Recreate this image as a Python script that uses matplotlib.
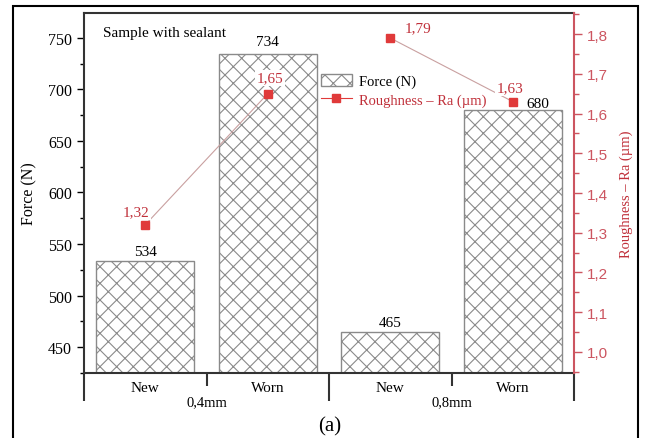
import matplotlib.pyplot as plt
from matplotlib.lines import Line2D
from matplotlib.patches import Rectangle
from matplotlib.ticker import FuncFormatter, MultipleLocator

# Data
conditions = ["New", "Worn", "New", "Worn"]
groups = ["0,4mm", "0,8mm"]
force = [534, 734, 465, 680]
roughness = [1.32, 1.65, 1.79, 1.63]

# label offsets (pixels) for the annotations
force_offsets = [(0, 9), (0, 13), (0, 9), (25, 6)]
rough_offsets = [(-9, 13), (2, 16), (28, 10), (-3, 14)]

RED = "#c0303a"
AXRED = "#cc5560"
GREY = "#8a8a8a"
W, H = 645, 439

plt.rcParams["font.family"] = ["Liberation Serif", "DejaVu Serif"]
plt.rcParams["hatch.linewidth"] = 0.8


def comma(v, pos=None):
    return f"{v:.1f}".replace(".", ",")


fig = plt.figure(figsize=(W / 100, H / 100), dpi=100)
ax = fig.add_axes([84 / W, 1 - 374 / H, 490 / W, 360 / H])

x = list(range(len(force)))
bars = ax.bar(x, force, width=0.8, color="white", edgecolor=GREY,
              hatch="xx", linewidth=1.0, label="Force (N)")
ax.set_xlim(-0.5, 3.5)
ax.set_ylim(425, 774)

for xi, v, (dx, dy) in zip(x, force, force_offsets):
    ax.annotate(str(v), (xi, v), xytext=(dx, dy), textcoords="offset pixels",
                ha="center", va="center", fontsize=11)

# x axis: boundary ticks, category and group labels as text
ax.set_xticks([-0.5, 1.5, 3.5])
ax.set_xticks([0.5, 2.5], minor=True)
ax.tick_params(axis="x", which="major", length=20, width=1.5,
               color="#333333", labelbottom=False)
ax.tick_params(axis="x", which="minor", length=9.5, width=1.5,
               color="#333333")
for xi, c in zip(x, conditions):
    ax.text(xi, -15 / 360, c, transform=ax.get_xaxis_transform(),
            ha="center", va="center", fontsize=11)
for i, g in enumerate(groups):
    ax.text(2 * i + 0.5, -29 / 360, g, transform=ax.get_xaxis_transform(),
            ha="center", va="center", fontsize=10.5)

ax.set_yticks(range(450, 751, 50))
ax.yaxis.set_minor_locator(MultipleLocator(25))
ax.tick_params(axis="y", which="major", length=5, width=1, labelsize=11.5)
ax.tick_params(axis="y", which="minor", length=3, width=1)
ax.set_ylabel("Force (N)", fontsize=11.5)
ax.yaxis.set_label_coords(-0.095, 0.5)
for s in ["left", "bottom", "top"]:
    ax.spines[s].set_linewidth(1.5)
    ax.spines[s].set_color("#333333")
ax.spines["right"].set_visible(False)

ax.text(103 / W, 1 - 34 / H, "Sample with sealant", transform=fig.transFigure,
        ha="left", va="center", fontsize=11)

# roughness on the right axis
ax2 = ax.twinx()
ax2.set_ylim(0.947, 1.853)
for i in range(len(groups)):
    ax2.plot(x[2 * i:2 * i + 2], roughness[2 * i:2 * i + 2],
             color="#c9a0a0", lw=0.8)
ax2.plot(x, roughness, ls="none", marker="s", ms=5.5, color="#e03a3a")
for xi, v, (dx, dy) in zip(x, roughness, rough_offsets):
    ax2.annotate(f"{v:.2f}".replace(".", ","), (xi, v), xytext=(dx, dy),
                 textcoords="offset pixels", ha="center", va="center",
                 fontsize=11, color=RED,
                 bbox=dict(boxstyle="square,pad=0.1", fc="white", ec="none"))

ax2.yaxis.set_major_locator(MultipleLocator(0.1))
ax2.yaxis.set_minor_locator(MultipleLocator(0.05))
ax2.yaxis.set_major_formatter(FuncFormatter(comma))
ax2.tick_params(axis="y", which="major", length=6, width=1, color=AXRED,
                labelcolor=AXRED, labelsize=11)
ax2.tick_params(axis="y", which="minor", length=3.5, width=1, color=AXRED)
for lab in ax2.get_yticklabels():
    lab.set_fontfamily("Liberation Sans")
ax2.set_ylabel("Roughness – Ra (µm)", color=RED, fontsize=10.5)
ax2.yaxis.set_label_coords(1.092, 0.5)
for s in ["left", "bottom", "top"]:
    ax2.spines[s].set_visible(False)
ax2.spines["right"].set_color(AXRED)
ax2.spines["right"].set_linewidth(1.5)

proxy = Line2D([], [], color="#e03a3a", lw=0.8, marker="s", ms=5.5)
leg = ax2.legend([bars, proxy], ["Force (N)", "Roughness – Ra (µm)"],
                 loc="upper left", bbox_to_anchor=(321 / W, 1 - 75 / H),
                 bbox_transform=fig.transFigure, frameon=False, fontsize=10.5,
                 handlelength=2.1, handleheight=0.9, handletextpad=0.5,
                 borderpad=0, borderaxespad=0, labelspacing=0.3)
leg.get_texts()[1].set_color(RED)

fig.text(330 / W, 1 - 427 / H, "(a)", fontsize=15, ha="center", va="center")

# outer frame around the whole panel
fig.add_artist(Rectangle((13 / W, -0.05), 625 / W, 1 - 7 / H + 0.05,
                         transform=fig.transFigure, fill=False, lw=1.5,
                         ec="black"))

fig.savefig("out.png", dpi=100)
